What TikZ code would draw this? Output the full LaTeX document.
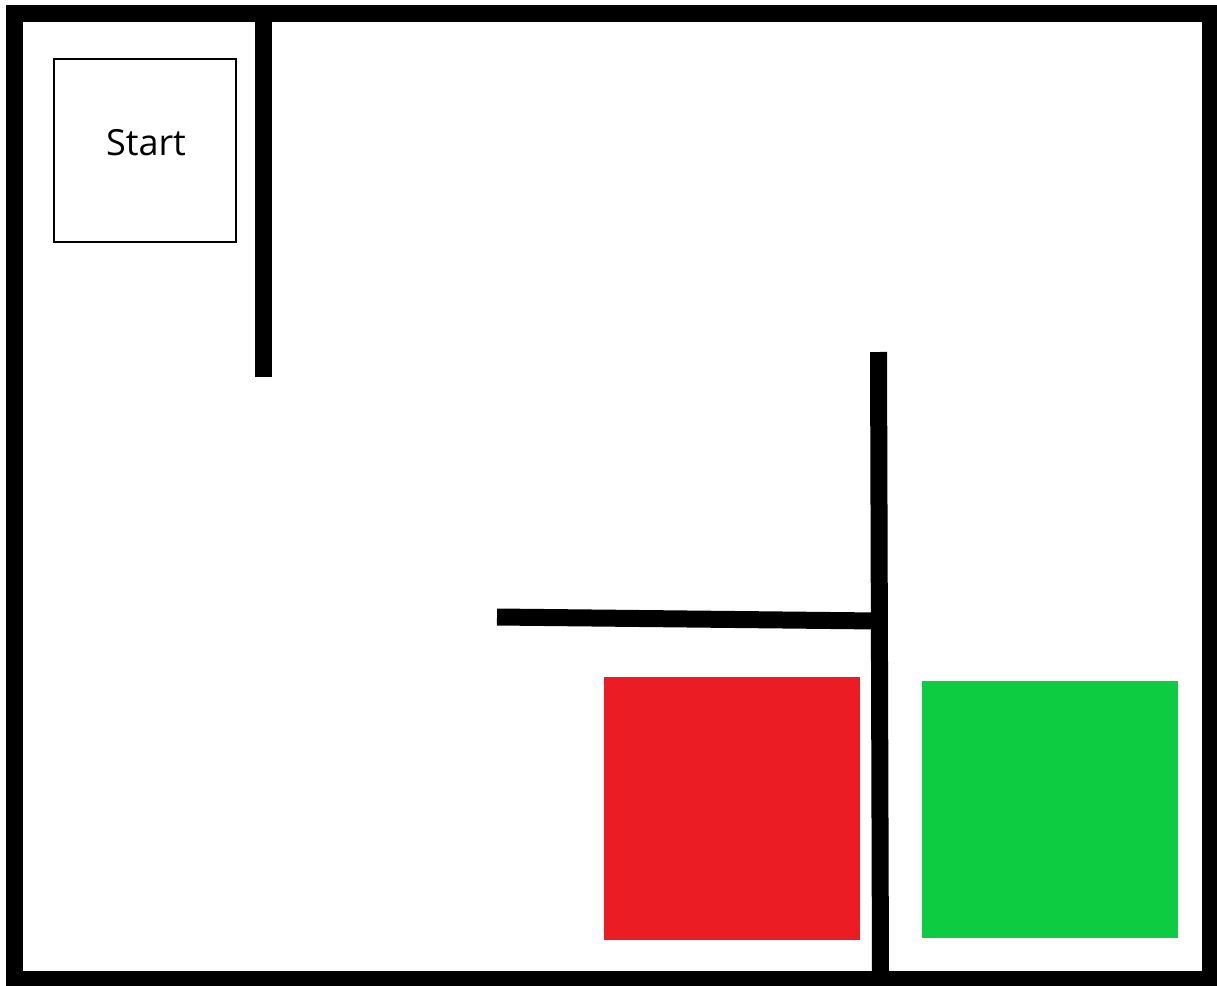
\documentclass[tikz,border=0pt]{standalone}
\usepackage{fontspec}
\setmainfont{Open Sans}
\definecolor{zonered}{RGB}{236,28,36}
\definecolor{zonegreen}{RGB}{13,204,66}
\begin{document}
\begin{tikzpicture}[x=1pt,y=-1pt,
  wall/.style={line width=17pt,line cap=butt,black},
  startbox/.style={draw=black,line width=2pt,minimum width=182pt,minimum height=183pt,inner sep=0pt,font=\fontsize{36}{40}\selectfont},
  zone/.style={draw=none,inner sep=0pt,minimum width=256pt}
]
\useasboundingbox[fill=white] (0,0) rectangle (1217,985);
% outer frame
\draw[wall,line join=miter] (14,13.5) rectangle (1210,979);
% walls
\draw[wall] (263.5,13.5) -- (263.5,377);
\draw[wall] (878.5,352) -- (880.5,979);
\draw[wall] (497,617) -- (879,621);
% start
\node[startbox] (start) at (145,150.5) {};
\node[font=\fontsize{36}{40}\selectfont] (starttext) at (146,143) {Start};
% zones
\node[zone,fill=zonered,minimum height=263pt] (red) at (732,808.5) {};
\node[zone,fill=zonegreen,minimum height=257pt] (green) at (1050,809.5) {};
\end{tikzpicture}
\end{document}
